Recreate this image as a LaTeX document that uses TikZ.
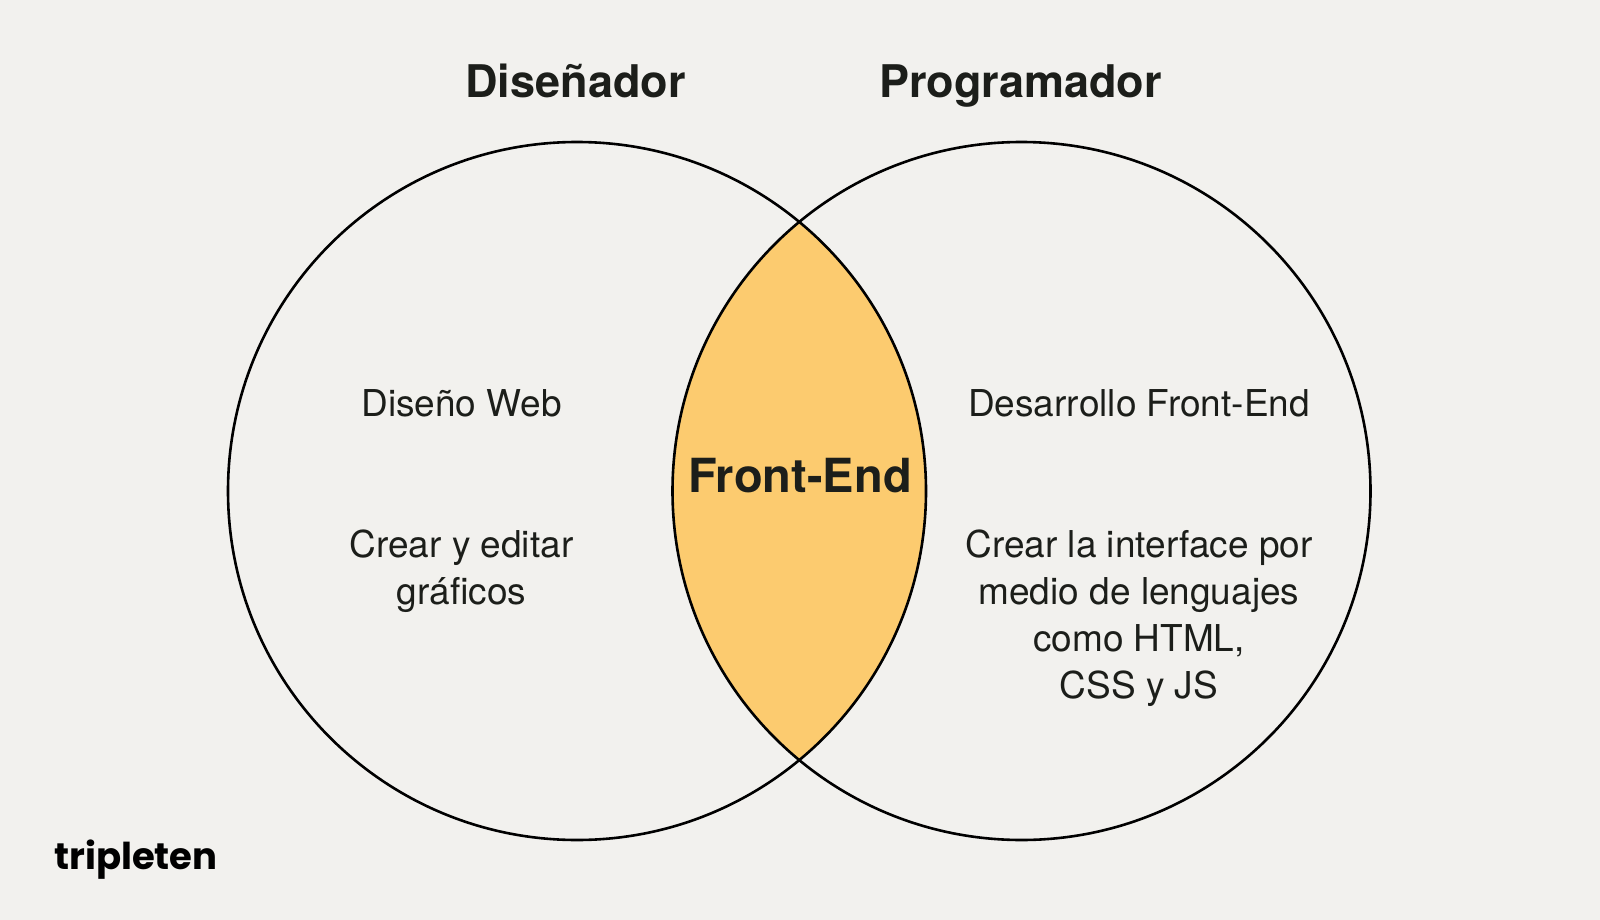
\documentclass[tikz,border=0pt]{standalone}
\usepackage{fontspec}
\setmainfont{TeX Gyre Heros}
\newfontfamily\logofont{Poppins}
\definecolor{TBack}{HTML}{F2F1EE}
\definecolor{TInk}{HTML}{1C1E1A}
\definecolor{TGold}{HTML}{FCCB6F}
\usetikzlibrary{positioning}
\tikzset{
  ringline/.style={draw=black,line width=2.6pt},
  roletitle/.style={font=\fontsize{45}{50}\selectfont\bfseries,text=TInk,inner sep=0pt,anchor=base},
  itemtext/.style={font=\fontsize{37}{47}\selectfont,text=TInk,align=center,inner sep=0pt,anchor=base},
}
\begin{document}
\begin{tikzpicture}[x=1pt,y=-1pt]
    \path[fill=TBack] (0,0) rectangle (1600,920);
    \useasboundingbox (0,0) rectangle (1600,920);
    % overlap
    \begin{scope}
      \clip (577,491) circle (349);
      \fill[TGold] (1021.5,491) circle (349);
    \end{scope}
    \node[circle,ringline,minimum size=698pt,inner sep=0pt] (ringD) at (577,491) {};
    \node[circle,ringline,minimum size=698pt,inner sep=0pt] (ringP) at (1021.5,491) {};
    \node[roletitle] (titleD) at (575.5,98) {Diseñador};
    \node[roletitle] (titleP) at (1020.5,98) {Programador};
    \node[itemtext] (webD) at (461.5,416) {Diseño Web};
    \node[itemtext] (grafD) at (461.5,604) {Crear y editar\\gráficos};
    \node[itemtext] (webP) at (1139,416) {Desarrollo Front-End};
    \node[itemtext] (codeP) at (1139,698) {Crear la interface por\\medio de lenguajes\\como HTML,\\CSS y JS};
    \node[roletitle,font=\fontsize{47}{50}\selectfont\bfseries] (front) at (800,492) {Front-End};
    \node[font=\logofont\fontsize{37}{40}\selectfont\bfseries,text=black,inner sep=0pt,anchor=base] (logo) at (136,869) {tripleten};
  \end{tikzpicture}
\end{document}
